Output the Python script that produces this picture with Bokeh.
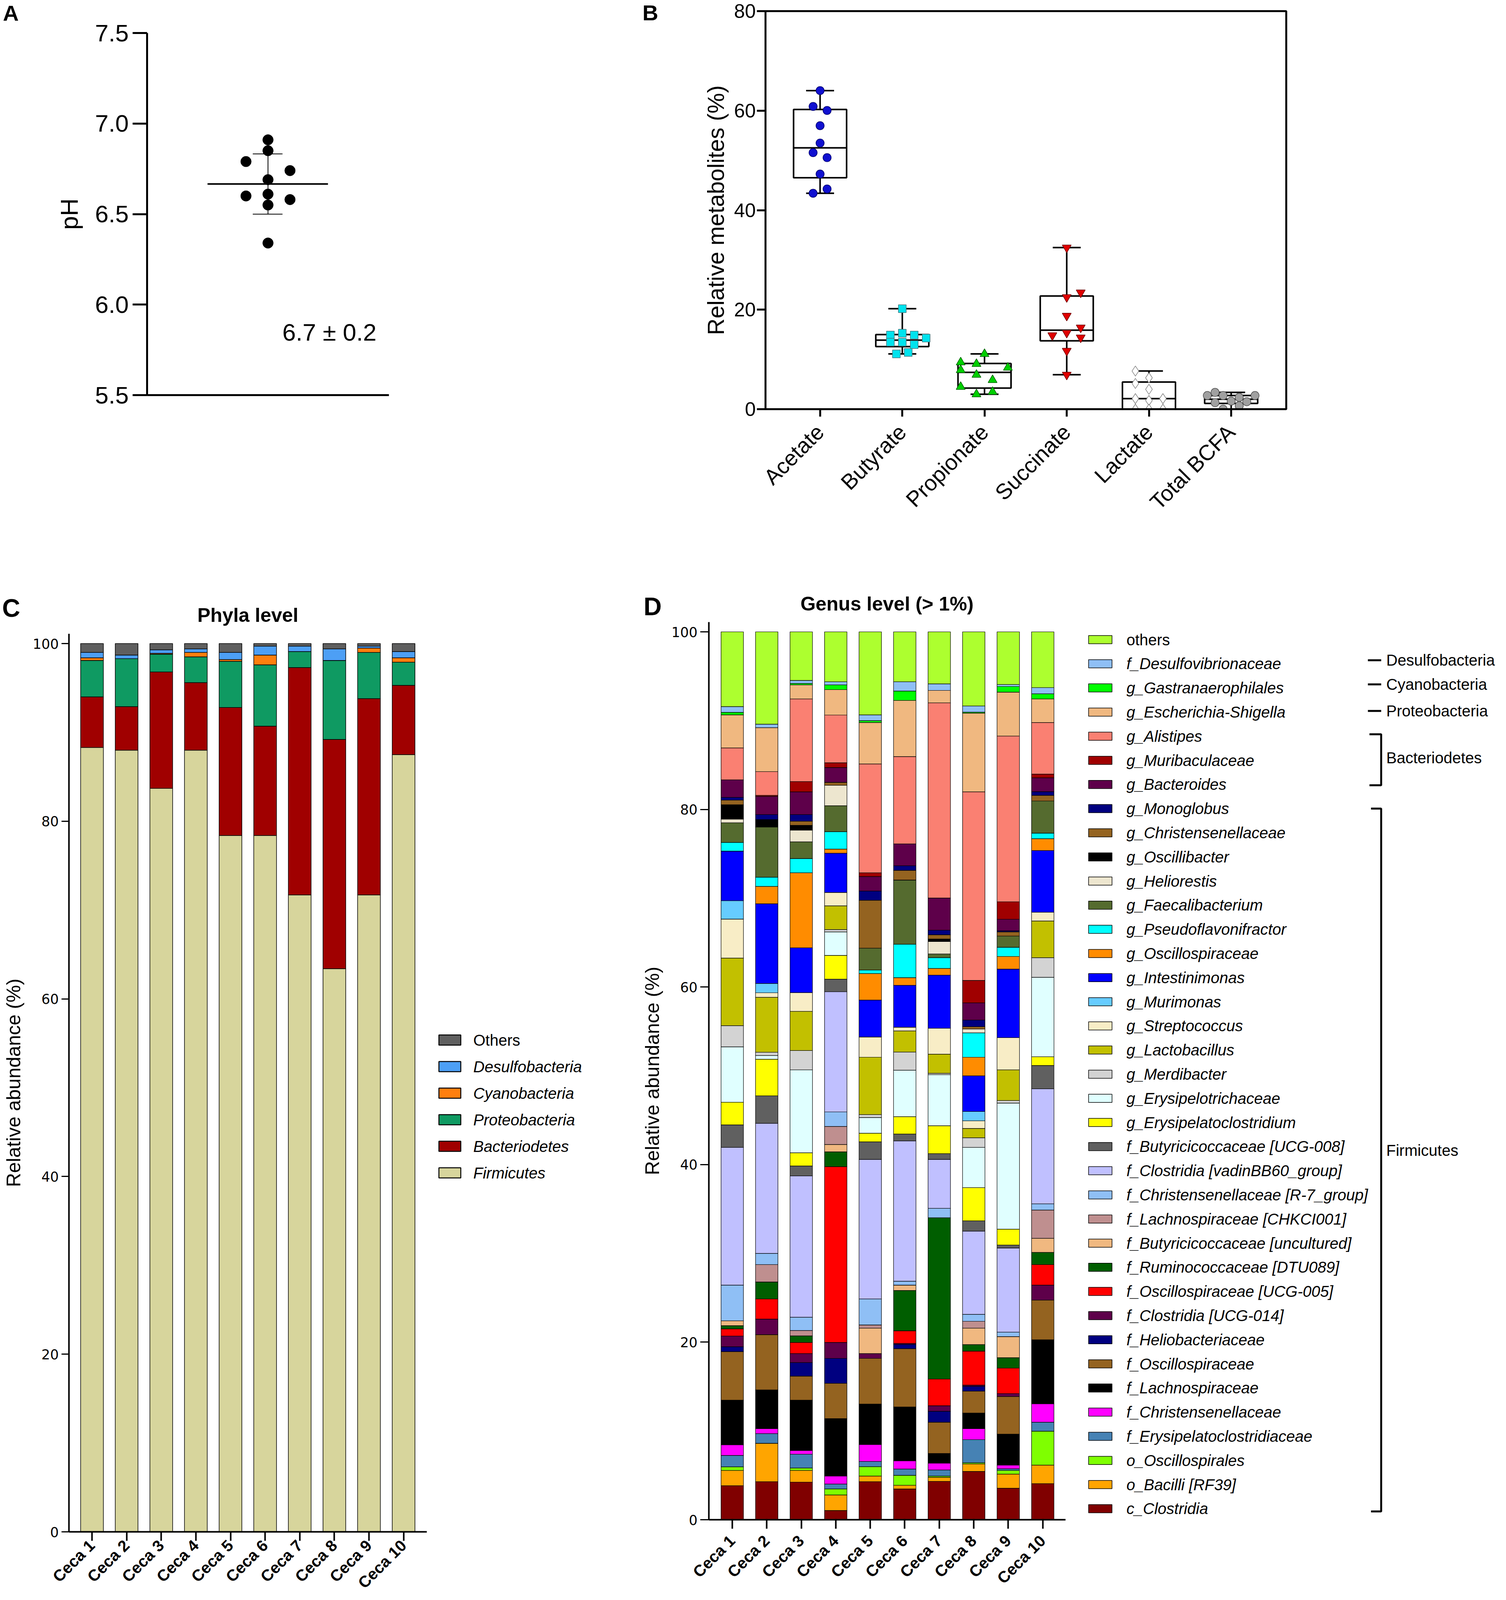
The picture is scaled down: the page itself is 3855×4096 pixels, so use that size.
import math
import numpy as np
from bokeh.plotting import figure
from bokeh.models import Range1d, FixedTicker, PrintfTickFormatter, Label, ColumnDataSource
from bokeh.layouts import row, column
from bokeh.embed import file_html
from bokeh.resources import INLINE
from bokeh.core.properties import value

# ======================= DATA =======================
# Panel A : caecal pH of 10 ceca
ph_values = [6.91, 6.85, 6.79, 6.74, 6.69, 6.60, 6.61, 6.58, 6.55, 6.34]
ph_swarm_slot = [0, 0, -1, 1, 0, -1, 0, 1, 0, 0]

# Panel B : relative metabolites (%)
metabolites = ["Acetate", "Butyrate", "Propionate", "Succinate", "Lactate", "Total BCFA"]
acetate_pct = [64.03, 60.85, 60.04, 56.98, 53.49, 51.56, 50.56, 47.26, 44.26, 43.39]
butyrate_pct = [20.2, 14.9, 15.27, 14.9, 14.28, 13.47, 13.47, 12.97, 11.1, 11.41]
propionate_pct = [11.1, 9.41, 9.1, 7.86, 8.35, 6.92, 5.86, 4.49, 3.0, 3.49]
succinate_pct = [32.48, 23.44, 22.51, 18.77, 16.4, 14.84, 15.34, 14.4, 11.72, 6.92]
lactate_pct = [7.67, 6.3, 5.17, 4.0, 2.12, 1.75, 2.12, 0.0, 0.0, 0.0]
bcfa_pct = [2.74, 3.37, 2.74, 2.37, 2.74, 1.31, 1.62, 1.5, 0.0, 0.69]
# swarm jitter (fraction of category spacing)
acetate_dx = [0, -0.085, 0.085, 0, 0, -0.085, 0.085, 0, 0.085, -0.085]
butyrate_dx = [0, -0.145, 0, 0.145, 0.29, -0.145, 0, 0.145, -0.072, 0.072]
propionate_dx = [0, -0.29, -0.098, -0.29, 0.284, -0.098, 0.098, -0.29, -0.098, 0.098]
succinate_dx = [0, 0.17, 0, 0, 0.17, -0.175, 0, 0.17, 0, 0]
lactate_dx = [-0.165, 0, -0.165, 0, -0.165, 0, 0.17, -0.165, 0, 0.17]
bcfa_dx = [-0.29, -0.196, -0.098, 0.098, 0.29, -0.196, 0, 0.19, -0.098, 0.098]

# Panel C / D samples
samples = ["Ceca 1", "Ceca 2", "Ceca 3", "Ceca 4", "Ceca 5",
           "Ceca 6", "Ceca 7", "Ceca 8", "Ceca 9", "Ceca 10"]

# Panel C : phyla (%), stacked bottom -> top
firmicutes = [88.3, 88.0, 83.7, 88.0, 78.4, 78.4, 71.7, 63.4, 71.7, 87.5]
bacteriodetes = [5.7, 4.9, 13.1, 7.6, 14.4, 12.3, 25.6, 25.8, 22.1, 7.8]
proteobacteria = [4.1, 5.4, 2.0, 2.9, 5.2, 6.9, 1.8, 8.9, 5.2, 2.6]
cyanobacteria = [0.3, 0.0, 0.1, 0.5, 0.2, 1.1, 0.0, 0.0, 0.5, 0.5]
desulfobacteria = [0.6, 0.4, 0.4, 0.4, 0.8, 1.0, 0.6, 1.3, 0.2, 0.7]
phyla_others = [1.0, 1.3, 0.7, 0.6, 1.0, 0.3, 0.3, 0.6, 0.3, 0.9]

# Panel D : genera (%), stacked bottom -> top
c_clostridia = [3.83, 4.29, 4.23, 1.04, 4.29, 3.47, 4.32, 5.44, 3.55, 4.07]
o_bacilli_rf39 = [1.72, 4.32, 1.32, 1.75, 0.63, 0.41, 0.46, 0.84, 1.59, 2.08]
o_oscillospirales = [0.41, 0.0, 0.27, 0.68, 1.06, 1.12, 0.14, 0.14, 0.41, 3.82]
f_erysipelatoclostridiaceae = [1.28, 1.09, 1.56, 0.55, 0.58, 0.71, 0.68, 2.60, 0.19, 1.01]
f_christensenellaceae = [1.20, 0.55, 0.41, 0.90, 1.91, 0.93, 0.77, 1.23, 0.41, 2.08]
f_lachnospiraceae = [5.03, 4.37, 5.68, 6.47, 4.56, 6.06, 1.09, 1.77, 3.49, 7.21]
f_oscillospiraceae = [5.46, 6.23, 2.70, 3.97, 5.14, 6.56, 3.52, 2.46, 4.24, 4.46]
f_heliobacteriaceae = [0.55, 0.0, 1.53, 2.81, 0.0, 0.49, 1.23, 0.55, 0.0, 0.0]
f_clostridia_ucg014 = [1.20, 1.75, 1.02, 1.80, 0.55, 0.11, 0.63, 0.13, 0.33, 1.69]
f_oscillospiraceae_ucg005 = [0.82, 2.26, 1.25, 19.80, 0.0, 1.42, 3.01, 3.83, 2.87, 2.32]
f_ruminococcaceae_dtu089 = [0.36, 1.92, 0.74, 1.67, 0.0, 4.54, 18.17, 0.74, 1.17, 1.37]
f_butyricicoccaceae_uncultured = [0.54, 0.0, 0.0, 0.82, 2.86, 0.60, 0.0, 1.85, 2.38, 1.58]
f_lachnospiraceae_chkci001 = [0.0, 1.96, 0.60, 2.04, 0.36, 0.0, 0.0, 0.77, 0.0, 3.19]
f_christensenellaceae_r7 = [4.02, 1.26, 1.50, 1.63, 2.92, 0.44, 1.05, 0.79, 0.49, 0.70]
f_clostridia_vadinbb60 = [15.51, 14.65, 15.91, 13.54, 15.72, 15.81, 5.51, 9.37, 9.48, 12.95]
f_butyricicoccaceae_ucg008 = [2.54, 3.09, 1.12, 1.41, 1.98, 0.77, 0.65, 1.15, 0.33, 2.63]
g_erysipelatoclostridium = [2.55, 4.12, 1.49, 2.68, 0.97, 1.96, 3.14, 3.74, 1.80, 0.98]
g_erysipelotrichaceae = [6.24, 0.42, 9.34, 2.65, 1.77, 5.23, 5.75, 4.53, 14.20, 8.95]
g_merdibacter = [2.39, 0.37, 2.17, 0.26, 0.33, 2.04, 0.16, 1.09, 0.28, 2.21]
g_lactobacillus = [7.61, 6.19, 4.42, 2.67, 6.46, 2.38, 2.16, 1.05, 3.46, 4.14]
g_streptococcus = [4.39, 0.51, 2.11, 1.51, 2.28, 0.42, 2.91, 0.86, 3.63, 0.98]
g_murimonas = [2.07, 1.05, 0.0, 0.0, 0.0, 0.0, 0.0, 1.05, 0.0, 0.0]
g_intestinimonas = [5.58, 8.97, 5.05, 4.42, 4.16, 4.72, 5.98, 4.02, 7.72, 6.95]
g_oscillospiraceae = [0.0, 1.96, 8.44, 0.46, 2.98, 0.86, 0.76, 2.09, 1.42, 1.33]
g_pseudoflavonifractor = [0.98, 1.04, 1.61, 1.96, 0.40, 3.76, 1.21, 2.75, 1.03, 0.63]
g_faecalibacterium = [2.21, 5.65, 1.88, 2.93, 2.46, 7.24, 0.42, 0.0, 1.27, 3.62]
g_heliorestis = [0.42, 0.0, 1.32, 2.30, 0.0, 0.0, 1.40, 0.42, 0.0, 0.0]
g_oscillibacter = [1.62, 0.84, 0.54, 0.0, 0.0, 0.0, 0.28, 0.0, 0.0, 0.0]
g_christensenellaceae = [0.52, 0.0, 0.46, 0.33, 5.40, 1.09, 0.48, 0.27, 0.47, 0.63]
g_monoglobus = [0.30, 0.56, 0.75, 0.0, 1.04, 0.51, 0.52, 0.75, 0.12, 0.42]
g_bacteroides = [1.98, 2.05, 2.56, 1.67, 1.63, 2.47, 3.62, 1.93, 1.30, 1.56]
g_muribaculaceae = [0.0, 0.11, 1.16, 0.54, 0.42, 0.0, 0.0, 2.53, 1.97, 0.42]
g_alistipes = [3.60, 2.68, 9.30, 5.37, 12.26, 9.83, 21.98, 21.24, 18.66, 5.81]
g_escherichia_shigella = [3.72, 4.95, 1.58, 2.86, 4.67, 6.33, 1.40, 8.86, 4.95, 2.65]
g_gastranaerophilales = [0.28, 0.0, 0.17, 0.53, 0.21, 1.05, 0.0, 0.11, 0.63, 0.58]
f_desulfovibrionaceae = [0.65, 0.39, 0.34, 0.35, 0.65, 1.04, 0.74, 0.70, 0.23, 0.70]
genus_others = [8.42, 10.40, 5.47, 5.63, 9.35, 5.63, 5.86, 8.35, 5.93, 6.28]

# ======================= TABLES built from the arrays =======================
phyla_series = [
    ("Firmicutes", firmicutes, "#D7D59C"),
    ("Bacteriodetes", bacteriodetes, "#A00000"),
    ("Proteobacteria", proteobacteria, "#0F9A62"),
    ("Cyanobacteria", cyanobacteria, "#FF7F0E"),
    ("Desulfobacteria", desulfobacteria, "#4D9FF5"),
    ("Others", phyla_others, "#5F5F5F"),
]
genus_series = [
    ("c_Clostridia", c_clostridia, "#800000"),
    ("o_Bacilli [RF39]", o_bacilli_rf39, "#FFA500"),
    ("o_Oscillospirales", o_oscillospirales, "#7FFF00"),
    ("f_Erysipelatoclostridiaceae", f_erysipelatoclostridiaceae, "#4682B4"),
    ("f_Christensenellaceae", f_christensenellaceae, "#FF00FF"),
    ("f_Lachnospiraceae", f_lachnospiraceae, "#000000"),
    ("f_Oscillospiraceae", f_oscillospiraceae, "#946320"),
    ("f_Heliobacteriaceae", f_heliobacteriaceae, "#000080"),
    ("f_Clostridia [UCG-014]", f_clostridia_ucg014, "#5E004A"),
    ("f_Oscillospiraceae [UCG-005]", f_oscillospiraceae_ucg005, "#FF0000"),
    ("f_Ruminococcaceae [DTU089]", f_ruminococcaceae_dtu089, "#005E00"),
    ("f_Butyricicoccaceae [uncultured]", f_butyricicoccaceae_uncultured, "#F0B880"),
    ("f_Lachnospiraceae [CHKCI001]", f_lachnospiraceae_chkci001, "#BF8F8F"),
    ("f_Christensenellaceae [R-7_group]", f_christensenellaceae_r7, "#8FBFF5"),
    ("f_Clostridia [vadinBB60_group]", f_clostridia_vadinbb60, "#C0C0FF"),
    ("f_Butyricicoccaceae [UCG-008]", f_butyricicoccaceae_ucg008, "#606060"),
    ("g_Erysipelatoclostridium", g_erysipelatoclostridium, "#FFFF00"),
    ("g_Erysipelotrichaceae", g_erysipelotrichaceae, "#E0FFFF"),
    ("g_Merdibacter", g_merdibacter, "#D3D3D3"),
    ("g_Lactobacillus", g_lactobacillus, "#C2C000"),
    ("g_Streptococcus", g_streptococcus, "#F8EDC6"),
    ("g_Murimonas", g_murimonas, "#66CCFF"),
    ("g_Intestinimonas", g_intestinimonas, "#0000FF"),
    ("g_Oscillospiraceae", g_oscillospiraceae, "#FF8C00"),
    ("g_Pseudoflavonifractor", g_pseudoflavonifractor, "#00FFFF"),
    ("g_Faecalibacterium", g_faecalibacterium, "#556B2F"),
    ("g_Heliorestis", g_heliorestis, "#EDE6CF"),
    ("g_Oscillibacter", g_oscillibacter, "#000000"),
    ("g_Christensenellaceae", g_christensenellaceae, "#946320"),
    ("g_Monoglobus", g_monoglobus, "#000080"),
    ("g_Bacteroides", g_bacteroides, "#5E004A"),
    ("g_Muribaculaceae", g_muribaculaceae, "#A00000"),
    ("g_Alistipes", g_alistipes, "#FA8072"),
    ("g_Escherichia-Shigella", g_escherichia_shigella, "#F0B880"),
    ("g_Gastranaerophilales", g_gastranaerophilales, "#00FF00"),
    ("f_Desulfovibrionaceae", f_desulfovibrionaceae, "#8FBFF5"),
    ("others", genus_others, "#ADFF2F"),
]

# ======================= LAYOUT helpers (window px) =======================
FONT = "Liberation Sans"
TICKFONT = "DejaVu Sans"


def make_fig(origin, w, h, fr, xr, yr, axes=True):
    ox, oy = origin
    fl, frr, ft, fb = fr
    kw = {}
    if not axes:
        kw = dict(x_axis_type=None, y_axis_type=None, title=None)
    p = figure(width=w, height=h, x_range=Range1d(*xr), y_range=Range1d(*yr),
               output_backend="svg", toolbar_location=None, frame_align=False,
               min_border_left=fl - ox, min_border_right=ox + w - frr,
               min_border_top=ft - oy, min_border_bottom=oy + h - fb, **kw)
    p.grid.visible = False
    p.outline_line_color = None
    return p


def pixel_fig(origin, w, h):
    """figure with no axes whose data units are window pixels (y downwards)"""
    ox, oy = origin
    return make_fig(origin, w, h, (ox, ox + w, oy, oy + h), (ox, ox + w), (oy + h, oy), axes=False)


def style_axis(ax, font, size, tick_out, line_w, standoff, style="normal", tick_w=None):
    ax.axis_line_color = "black"
    ax.axis_line_width = line_w
    ax.major_tick_line_color = "black"
    ax.major_tick_line_width = tick_w if tick_w else line_w
    ax.major_tick_out = tick_out
    ax.major_tick_in = 0
    ax.minor_tick_line_color = None
    ax.major_label_text_font = font
    ax.major_label_text_font_size = f"{size}px"
    ax.major_label_text_font_style = style
    ax.major_label_text_color = "black"
    ax.major_label_standoff = standoff


def axis_title(ax, text, size, standoff):
    ax.axis_label = text
    ax.axis_label_text_font = FONT
    ax.axis_label_text_font_size = f"{size}px"
    ax.axis_label_text_font_style = "normal"
    ax.axis_label_text_color = "black"
    ax.axis_label_standoff = standoff


def put_text(p, xs_, ys_, texts, size, style="normal", align="left"):
    # ys_ are the vertical centres of the text lines
    p.text(x=xs_, y=ys_, text=texts, text_font=value(FONT), text_font_size=f"{size}px",
           text_font_style=value(style), text_align=align, text_baseline="middle",
           text_color="black")


ROW1_H = 1490
PAGE_W, PAGE_H = 3853, 4094

# ======================= PANEL A =======================
hdrA = pixel_fig((0, 0), 60, ROW1_H)
put_text(hdrA, [7], [33], ["A"], 56, style="bold")

frA = (376, 995, 84, 1011)
xrA = (0.0, 1.0)
yrA = (5.5, 7.5)
pA = make_fig((60, 0), 1560, ROW1_H, frA, xrA, yrA)
pA.yaxis.ticker = FixedTicker(ticks=[5.5, 6.0, 6.5, 7.0, 7.5])
pA.yaxis.formatter = PrintfTickFormatter(format="%.1f")
style_axis(pA.yaxis, FONT, 62, 37, 5, 10)
axis_title(pA.yaxis, "pH", 63, 28)
pA.xaxis.ticker = FixedTicker(ticks=[])
style_axis(pA.xaxis, FONT, 1, 0, 5, 0)

ph_mean = float(np.mean(ph_values))
ph_sd = float(np.std(ph_values, ddof=1))
ph_x = [0.5 + 0.091 * s for s in ph_swarm_slot]
pA.segment(x0=[0.25], y0=[ph_mean], x1=[0.748], y1=[ph_mean], line_color="black", line_width=4)
pA.segment(x0=[0.5], y0=[ph_mean - ph_sd], x1=[0.5], y1=[ph_mean + ph_sd], line_color="black", line_width=2)
pA.segment(x0=[0.437, 0.437], y0=[ph_mean - ph_sd, ph_mean + ph_sd],
           x1=[0.56, 0.56], y1=[ph_mean - ph_sd, ph_mean + ph_sd], line_color="black", line_width=2)
pA.scatter(ph_x, ph_values, size=27, fill_color="black", line_color="black")
pA.add_layout(Label(x=0.754, y=5.847, text=f"{ph_mean:.1f} \u00b1 {ph_sd:.1f}", text_font=FONT,
                    text_font_size="62px", text_align="center", text_baseline="middle",
                    text_color="black"))

# ======================= PANEL B =======================
hdrB = pixel_fig((1620, 0), 80, ROW1_H)
put_text(hdrB, [1644], [32], ["B"], 56, style="bold")

frB = (1959, 3292, 28, 1047)
xrB = (-0.664, 5.67)
yrB = (0.0, 80.0)
pB = make_fig((1700, 0), PAGE_W - 1700, ROW1_H, frB, xrB, yrB)
pB.outline_line_color = "black"
pB.outline_line_width = 5
pB.yaxis.ticker = FixedTicker(ticks=[0, 20, 40, 60, 80])
style_axis(pB.yaxis, FONT, 50, 22, 5, 3)
axis_title(pB.yaxis, "Relative metabolites (%)", 59, 10)
pB.xaxis.ticker = FixedTicker(ticks=list(range(len(metabolites))))
pB.xaxis.major_label_overrides = {i: m for i, m in enumerate(metabolites)}
style_axis(pB.xaxis, FONT, 56, 19, 5, 30)
pB.xaxis.major_label_orientation = math.pi / 4

groups = [
    (acetate_pct, acetate_dx, "circle", "#1010D0", "#000070", 21),
    (butyrate_pct, butyrate_dx, "square", "#00E3EE", "#4A7A80", 20),
    (propionate_pct, propionate_dx, "triangle", "#00D000", "#006000", 23),
    (succinate_pct, succinate_dx, "inverted_triangle", "#E00000", "#700000", 23),
    (lactate_pct, lactate_dx, "diamond", "#FFFFFF", "#808080", 26),
    (bcfa_pct, bcfa_dx, "circle", "#A0A0A0", "#505050", 21),
]
box_half = 0.3225
cap_half = 0.17
for i, (vals, dx, marker, fc, lc, sz) in enumerate(groups):
    q1, med, q3 = np.percentile(vals, [25, 50, 75], method="weibull")
    lo, hi = min(vals), max(vals)
    pB.segment(x0=[i, i], y0=[lo, q3], x1=[i, i], y1=[q1, hi], line_color="black", line_width=4)
    pB.segment(x0=[i - cap_half, i - cap_half], y0=[lo, hi], x1=[i + cap_half, i + cap_half],
               y1=[lo, hi], line_color="black", line_width=4)
    pB.quad(left=[i - box_half], right=[i + box_half], bottom=[q1], top=[q3],
            fill_color="white", line_color="black", line_width=4)
    pB.segment(x0=[i - box_half], y0=[med], x1=[i + box_half], y1=[med], line_color="black", line_width=4)
    pB.scatter([i + d for d in dx], vals, marker=marker, size=sz, fill_color=fc,
               line_color=lc, line_width=1.5)

# ======================= PANEL C =======================
xs = list(range(1, len(samples) + 1))
HC = 130
hdrC = pixel_fig((0, ROW1_H), 1110, HC)
put_text(hdrC, [5], [1556], ["C"], 64, style="bold")
put_text(hdrC, [634], [1574], ["Phyla level"], 50, style="bold", align="center")

frC = (176, 1092, 1622, 3925)
xrC = (0.334, 10.67)
yrC = (0.0, 101.1)
pC = make_fig((0, ROW1_H + HC), 1110, PAGE_H - ROW1_H - HC, frC, xrC, yrC)
srcC = ColumnDataSource(dict(x=xs, **{n: v for n, v, c in phyla_series}))
pC.vbar_stack([n for n, v, c in phyla_series], x="x", width=0.657, source=srcC,
              fill_color=[c for n, v, c in phyla_series], line_color="black", line_width=1.5)
pC.yaxis.ticker = FixedTicker(ticks=[0, 20, 40, 60, 80, 100])
style_axis(pC.yaxis, TICKFONT, 35, 19, 4, 7, tick_w=3)
axis_title(pC.yaxis, "Relative abundance (%)", 50, 18)
pC.xaxis.ticker = FixedTicker(ticks=xs)
pC.xaxis.major_label_overrides = {x: s for x, s in zip(xs, samples)}
style_axis(pC.xaxis, FONT, 41, 23, 4, 5, style="bold")
pC.xaxis.major_label_orientation = math.pi / 4

# legend C
legC = pixel_fig((1110, ROW1_H), 510, PAGE_H - ROW1_H)
legC_names = [n for n, v, c in phyla_series][::-1]
legC_cols = [c for n, v, c in phyla_series][::-1]
rowsC = [2662 + 68 * i for i in range(len(legC_names))]
nC = len(rowsC)
legC.quad(left=[1123] * nC, right=[1179] * nC,
          top=[r - 13 for r in rowsC], bottom=[r + 13 for r in rowsC],
          fill_color=legC_cols, line_color="black", line_width=2.5)
put_text(legC, [1211], rowsC[:1], legC_names[:1], 40)
put_text(legC, [1211] * (nC - 1), rowsC[1:], legC_names[1:], 40, style="italic")

# ======================= PANEL D =======================
HD = 100
hdrD = pixel_fig((1620, ROW1_H), 1120, HD)
put_text(hdrD, [1647], [1552], ["D"], 64, style="bold")
put_text(hdrD, [2270], [1545], ["Genus level (> 1%)"], 50, style="bold", align="center")

frD = (1814, 2727, 1592, 3890)
xrD = (0.322, 10.66)
yrD = (0.0, 101.1)
pD = make_fig((1620, ROW1_H + HD), 1120, PAGE_H - ROW1_H - HD, frD, xrD, yrD)
srcD = ColumnDataSource(dict(x=xs, **{n: v for n, v, c in genus_series}))
pD.vbar_stack([n for n, v, c in genus_series], x="x", width=0.65, source=srcD,
              fill_color=[c for n, v, c in genus_series], line_color="black", line_width=1.2)
pD.yaxis.ticker = FixedTicker(ticks=[0, 20, 40, 60, 80, 100])
style_axis(pD.yaxis, TICKFONT, 35, 22, 4, 7, tick_w=3)
axis_title(pD.yaxis, "Relative abundance (%)", 50, 18)
pD.xaxis.ticker = FixedTicker(ticks=xs)
pD.xaxis.major_label_overrides = {x: s for x, s in zip(xs, samples)}
style_axis(pD.xaxis, FONT, 41, 23, 4, 24, style="bold")
pD.xaxis.major_label_orientation = math.pi / 4

# legend D
legD = pixel_fig((2740, ROW1_H), PAGE_W - 2740, PAGE_H - ROW1_H)
legD_names = [n for n, v, c in genus_series][::-1]
legD_cols = [c for n, v, c in genus_series][::-1]
pitch = 61.8
rowsD = [1637 + pitch * i for i in range(len(legD_names))]
nD = len(rowsD)
legD.quad(left=[2786] * nD, right=[2846] * nD,
          top=[r - 10.5 for r in rowsD], bottom=[r + 10.5 for r in rowsD],
          fill_color=legD_cols, line_color="black", line_width=1.5)
put_text(legD, [2883], rowsD[:1], legD_names[:1], 40)
put_text(legD, [2883] * (nD - 1), rowsD[1:], legD_names[1:], 40, style="italic")

bx, btick, bdash, btext = 3535, 3505, 3501, 3548
dash_rows = [(1, -9, "Desulfobacteria"), (2, -9, "Cyanobacteria"), (3, -3, "Proteobacteria")]
dash_y = [rowsD[i] + d for i, d, t in dash_rows]
legD.segment(x0=[bdash] * 3, y0=dash_y, x1=[bx] * 3, y1=dash_y, line_color="black", line_width=5)
put_text(legD, [btext] * 3, dash_y, [t for i, d, t in dash_rows], 40)
# Bacteriodetes bracket (g_Alistipes .. g_Bacteroides), Firmicutes bracket (g_Monoglobus .. c_Clostridia)
b_top, b_bot = rowsD[4] - 5, rowsD[6] + 2
f_top, f_bot = rowsD[7], rowsD[36] + 7
legD.multi_line(xs=[[btick, bx, bx, btick], [btick + 4, bx, bx, btick + 4]],
                ys=[[b_top, b_top, b_bot, b_bot], [f_top, f_top, f_bot, f_bot]],
                line_color="black", line_width=5)
put_text(legD, [btext, btext], [1939, 2944], ["Bacteriodetes", "Firmicutes"], 40)

layout = column(row(hdrA, pA, hdrB, pB),
                row(column(hdrC, pC), legC, column(hdrD, pD), legD))
open("out.html", "w").write(file_html(layout, INLINE))
